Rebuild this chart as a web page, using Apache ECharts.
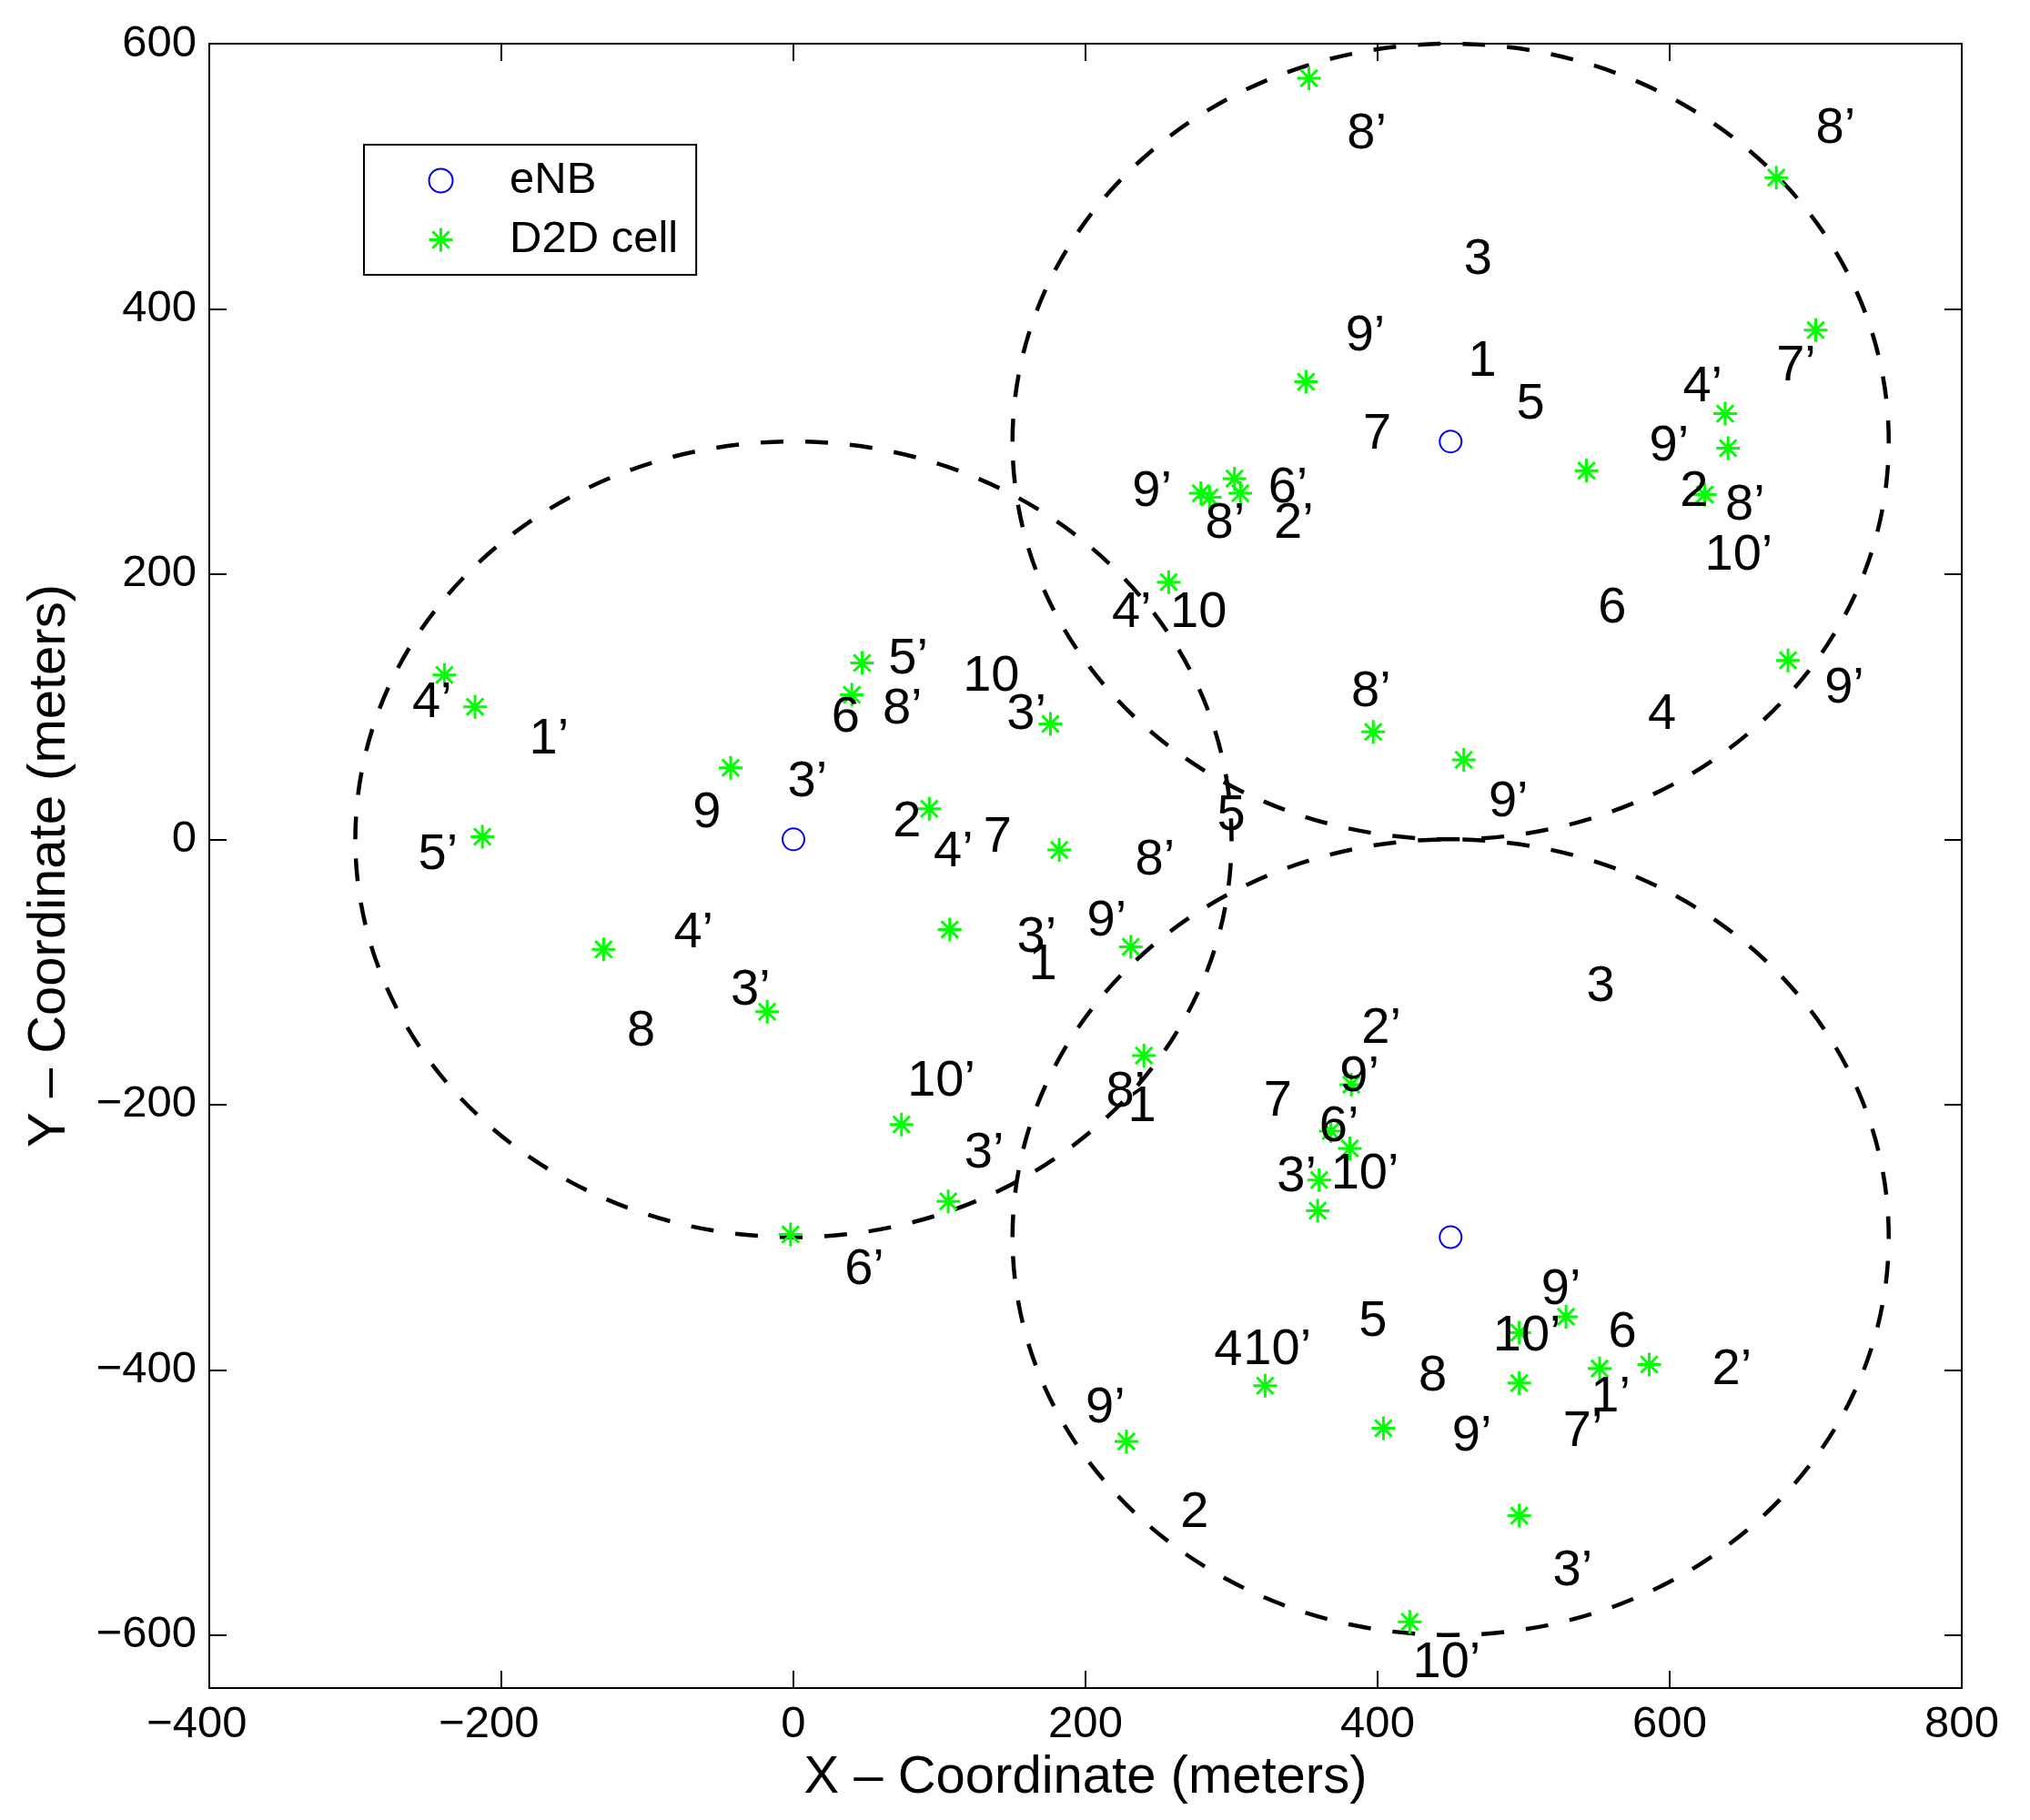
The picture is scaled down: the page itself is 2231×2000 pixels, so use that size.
<!DOCTYPE html>
<html>
<head>
<meta charset="utf-8">
<script src="https://cdn.jsdelivr.net/npm/echarts@6/dist/echarts.min.js"></script>
<style>
html,body{margin:0;padding:0;background:#fff;}
#chart{width:2231px;height:2000px;}
</style>
</head>
<body>
<div id="chart"></div>
<script>
// ---- data ----
var xTicks = [-400, -200, 0, 200, 400, 600, 800];
var yTicks = [-600, -400, -200, 0, 200, 400, 600];

var circleX = [0, 450, 450];
var circleY = [0, 300, -300];
var circleR = [300, 300, 300];

var enbX = [0, 450, 450];
var enbY = [0, 300, -300];

var d2dX = [353, 673, 700, 351, 638, 640, 543, 624, 279, 285, 302, 306, 257, 681, 397, 459,
            -239, -218, -213, -130, -43, -18, 40, 47, 93, 176, 182, 107, 231, 74, 106, -2, 240,
            382, 368, 381, 360, 359, 529, 497, 552, 586, 497, 323, 404, 228, 497, 422];
var d2dY = [574, 499, 384, 345, 321, 295, 278, 260, 261, 258, 272, 261, 194, 135, 81, 60,
            124, 100, 2, -83, 54, -130, 109, 133, 23, 87, -8, -68, -81, -215, -273, -298, -163,
            -185, -220, -233, -257, -280, -360, -372, -399, -396, -410, -412, -444, -454, -510, -590];

var labelText = ['8’','8’','3','9’','1','5','7','4’','7’','9’','2','8’','10’','6','4','9’','9’','8’','9’','6’','8’','2’','4’','10',
                 '4’','1’','5’','9','3’','4’','3’','8','6','8’','5’','10','3’','2','4’','7','8’','5','9’','3’','1','10’','8’','1','3’','6’',
                 '3','2’','9’','7','6’','3’','10’','5','4','10’','9’','2','9’','10’','6','8','2’','1’','7’','9’','3’','10’'];
var labelX = [379, 700, 459, 378, 462, 495, 390, 609, 673, 586, 607, 638, 624, 551, 585, 706, 476, 382, 232, 325, 282, 329, 218, 258,
              -261, -181, -257, -69, -4, -82, -43, -114, 26, 61, 65, 116, 146, 68, 96, 130, 234, 290, 201, 153, 161, 78, 214, 229, 117, 35,
              543, 389, 374, 322, 360, 331, 368, 387, 288, 308, 200, 265, 512, 479, 558, 428, 629, 546, 527, 451, 520, 424];
var labelY = [532, 536, 437, 379, 360, 328, 305, 341, 357, 296, 262, 252, 214, 174, 94, 114, 28, 111, 262, 265, 238, 238, 171, 171,
              103, 75, -12, 20, 43, -71, -114, -145, 92, 98, 136, 123, 94, 13, -10, 1, -16, 18, -62, -74, -95, -183, -191, -202, -237, -325,
              -111, -143, -179, -198, -217, -255, -253, -364, -386, -385, -429, -508, -340, -375, -372, -405, -400, -421, -447, -450, -552, -621];

// ---- build ----
var FONT = '"Liberation Sans", Arial, Helvetica, sans-serif';
var ASTERISK = 'path://M0,-10L0,10M-10,0L10,0M-7.07,-7.07L7.07,7.07M-7.07,7.07L7.07,-7.07';
function fmtY(v){ return String(v).replace('-', '\u2212'); }
// minus sign hangs to the left of the centred digits (as in the source figure)
function fmtX(v){ return v < 0 ? String(v).replace('-', '\u2212') + '\u2007' : String(v); }

var circleData = circleX.map(function(x,i){ return [x, circleY[i], circleR[i]]; });
var enbData = enbX.map(function(x,i){ return [x, enbY[i]]; });
var d2dData = d2dX.map(function(x,i){ return [x, d2dY[i]]; });
var labelData = labelX.map(function(x,i){ return [x, labelY[i]]; });

var axisCommon = {
  axisLine: {show: true, onZero: false, lineStyle: {color: '#000', width: 2}},
  axisTick: {show: true, inside: true, length: 19, lineStyle: {color: '#000', width: 2}},
  splitLine: {show: false}
};

var chart = echarts.init(document.getElementById('chart'), null, {renderer: 'canvas'});
chart.setOption({
  animation: false,
  backgroundColor: '#fff',
  grid: {left: 230, right: 75, top: 48, bottom: 145, containLabel: false},
  xAxis: [
    Object.assign({}, axisCommon, {
      type: 'value', min: -400, max: 800, interval: 200, position: 'bottom',
      name: 'X \u2013 Coordinate (meters)', nameLocation: 'middle', nameGap: 68,
      nameTextStyle: {fontSize: 58, fontFamily: FONT, color: '#000'},
      axisLabel: {show: true, margin: 16, fontSize: 49, fontFamily: FONT, color: '#000', formatter: fmtX}
    }),
    Object.assign({}, axisCommon, {
      type: 'value', min: -400, max: 800, interval: 200, position: 'top',
      axisLabel: {show: false}
    })
  ],
  yAxis: [
    Object.assign({}, axisCommon, {
      type: 'value', min: -640, max: 600, position: 'left',
      axisTick: {show: true, inside: true, length: 19, lineStyle: {color: '#000', width: 2}, customValues: yTicks},
      name: 'Y \u2013 Coordinate (meters)', nameLocation: 'middle', nameGap: 146,
      nameTextStyle: {fontSize: 58, fontFamily: FONT, color: '#000'},
      axisLabel: {show: true, margin: 14, fontSize: 49, fontFamily: FONT, color: '#000', formatter: fmtY, customValues: yTicks}
    }),
    Object.assign({}, axisCommon, {
      type: 'value', min: -640, max: 600, position: 'right',
      axisTick: {show: true, inside: true, length: 19, lineStyle: {color: '#000', width: 2}, customValues: yTicks},
      axisLabel: {show: false, customValues: yTicks}
    })
  ],
  legend: {
    orient: 'vertical', left: 400, top: 159,
    padding: [15, 20, 14, 70],
    itemWidth: 141, itemHeight: 26, itemGap: 16,
    borderColor: '#000', borderWidth: 2, backgroundColor: '#fff', borderRadius: 0,
    textStyle: {fontSize: 49, fontFamily: FONT, color: '#000'},
    selectedMode: false,
    data: [
      {name: 'eNB', icon: 'circle', itemStyle: {color: 'rgba(0,0,0,0)', borderColor: '#0000ff', borderWidth: 2}},
      {name: 'D2D cell', icon: ASTERISK, itemStyle: {color: 'rgba(0,0,0,0)', borderColor: '#00ff00', borderWidth: 3}}
    ]
  },
  series: [
    {
      type: 'custom', name: 'cells', z: 2, silent: true,
      data: circleData,
      renderItem: function(params, api){
        var c = api.coord([api.value(0), api.value(1)]);
        var s = api.size([api.value(2), api.value(2)]);
        return {type: 'ellipse', shape: {cx: c[0], cy: c[1], rx: s[0], ry: s[1]},
                style: {fill: 'none', stroke: '#000', lineWidth: 4.5, lineDash: [25, 24]}};
      }
    },
    {
      type: 'scatter', name: 'eNB', z: 3, silent: true,
      symbol: 'circle', symbolSize: 24,
      itemStyle: {color: 'rgba(0,0,0,0)', borderColor: '#0000ff', borderWidth: 2, opacity: 1},
      data: enbData
    },
    {
      type: 'scatter', name: 'D2D cell', z: 3, silent: true,
      symbol: ASTERISK, symbolSize: 26,
      itemStyle: {color: 'rgba(0,0,0,0)', borderColor: '#00ff00', borderWidth: 3, opacity: 1},
      data: d2dData
    },
    {
      type: 'custom', name: 'labels', z: 4, silent: true,
      data: labelData,
      renderItem: function(params, api){
        var p = api.coord([api.value(0), api.value(1)]);
        return {type: 'text', x: p[0], y: p[1],
                style: {text: labelText[params.dataIndex], fill: '#000', fontSize: 56, fontFamily: FONT,
                        align: 'left', verticalAlign: 'middle'}};
      }
    }
  ]
});
</script>
</body>
</html>
